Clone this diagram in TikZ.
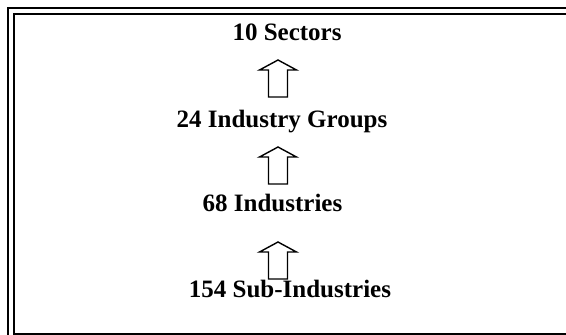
\documentclass[tikz,border=0pt]{standalone}
\usepackage{fontspec}
\setmainfont{Liberation Serif}
\begin{document}
\begin{tikzpicture}[x=1pt,y=-1pt,
  lbl/.style={font=\fontsize{25}{30}\selectfont\bfseries, anchor=base, inner sep=0pt},
  frameline/.style={line width=2pt, draw=black},
  blockup/.pic={\draw[line width=1.4pt, line join=miter, fill=white]
     (0,0) -- (18.5,10) -- (9.5,10) -- (9.5,37) -- (-9.5,37) -- (-9.5,10) -- (-18.5,10) -- cycle;}]
\useasboundingbox (0,0) rectangle (566,335);
\draw[frameline] (8,335) -- (8,8) -- (566,8);
\draw[frameline] (566,333.5) -- (14,333.5) -- (14,14) -- (566,14);
\node[lbl] (sec) at (287,40) {10 Sectors};
\node[lbl] (grp) at (282,127) {24 Industry Groups};
\node[lbl] (ind) at (272.5,211) {68 Industries};
\node[lbl] (sub) at (290,297) {154 Sub-Industries};
\pic at (278,60) {blockup};
\pic at (278,147) {blockup};
\pic at (278,242) {blockup};
\end{tikzpicture}
\end{document}
